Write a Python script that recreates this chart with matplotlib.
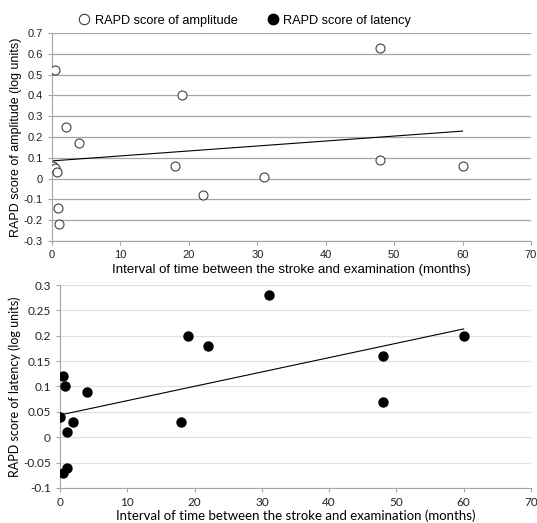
import numpy as np
import matplotlib
matplotlib.use("Agg")
import matplotlib.pyplot as plt
from matplotlib.lines import Line2D

# months between stroke and examination
months = [0.1, 0.5, 0.4, 0.8, 0.9, 1.0, 2, 4, 18, 19, 22, 31, 48, 48, 60]
amplitude = [0.06, 0.52, 0.05, 0.03, -0.14, -0.22, 0.25, 0.17, 0.06, 0.40, -0.08, 0.01, 0.63, 0.09, 0.06]

months_lat = [0, 0.5, 0.75, 1.0, 0.4, 1.0, 2, 4, 18, 19, 22, 31, 48, 48, 60]
latency = [0.04, 0.12, 0.10, 0.01, -0.07, -0.06, 0.03, 0.09, 0.03, 0.20, 0.18, 0.28, 0.16, 0.07, 0.20]

xlabel = "Interval of time between the stroke and examination (months)"

fig = plt.figure(figsize=(5.37, 5.23), dpi=100)

# top panel - amplitude
ax1 = fig.add_axes([0.0968, 0.539, 0.892, 0.398])
f1 = "Liberation Sans"
ax1.scatter(months, amplitude, s=42, facecolors="white", edgecolors="#404040", linewidths=0.8, zorder=3)
k, b = np.polyfit(months, amplitude, 1)
xx = np.array([min(months), max(months)])
ax1.plot(xx, k * xx + b, color="black", lw=0.8, zorder=2)
ax1.set_xlim(0, 70)
ax1.set_ylim(-0.3, 0.7)
ax1.set_xticks(range(0, 71, 10))
ax1.set_yticks(np.arange(-0.3, 0.71, 0.1))
ax1.set_yticklabels(["%g" % round(v, 1) for v in np.arange(-0.3, 0.71, 0.1)])
ax1.grid(axis="y", color="#a6a6a6", lw=0.9)
ax1.set_axisbelow(True)
for s in ["top", "right"]:
    ax1.spines[s].set_visible(False)
for s in ["left", "bottom"]:
    ax1.spines[s].set_color("#a6a6a6")
ax1.tick_params(colors="#a6a6a6", length=3, width=0.8, labelcolor="#222222", labelsize=8)
for t in ax1.get_xticklabels() + ax1.get_yticklabels():
    t.set_family(f1)
ax1.set_xlabel(xlabel, family=f1, fontsize=9.5, labelpad=3)
ax1.set_ylabel("RAPD score of amplitude (log units)", family=f1, fontsize=9, labelpad=1)

# bottom panel - latency
ax2 = fig.add_axes([0.1117, 0.067, 0.877, 0.388])
f2 = "Lato"
ax2.scatter(months_lat, latency, s=42, color="black", zorder=3)
k2, b2 = np.polyfit(months_lat, latency, 1)
xx2 = np.array([min(months_lat), max(months_lat)])
ax2.plot(xx2, k2 * xx2 + b2, color="black", lw=0.8, zorder=2)
ax2.set_xlim(0, 70)
ax2.set_ylim(-0.1, 0.3)
ax2.set_xticks(range(0, 71, 10))
ax2.set_yticks(np.arange(-0.1, 0.31, 0.05))
ax2.set_yticklabels(["%g" % round(v, 2) for v in np.arange(-0.1, 0.31, 0.05)])
ax2.grid(axis="y", color="#e0e0e0", lw=0.9)
ax2.set_axisbelow(True)
for s in ["top", "right"]:
    ax2.spines[s].set_visible(False)
for s in ["left", "bottom"]:
    ax2.spines[s].set_color("#a6a6a6")
ax2.tick_params(colors="#a6a6a6", length=3, width=0.8, labelcolor="#222222", labelsize=8.5)
for t in ax2.get_xticklabels() + ax2.get_yticklabels():
    t.set_family(f2)
ax2.set_xlabel(xlabel, family=f2, fontsize=9.5, labelpad=1)
ax2.set_ylabel("RAPD score of latency (log units)", family=f2, fontsize=9, labelpad=1.5)

# legend on top
handles = [
    Line2D([], [], ls="none", marker="o", ms=7.5, mfc="white", mec="#404040", mew=0.8),
    Line2D([], [], ls="none", marker="o", ms=7.5, mfc="black", mec="black"),
]
fig.legend(handles, ["RAPD score of amplitude", "RAPD score of latency"], ncol=2,
           loc="center", bbox_to_anchor=(0.452, 0.96), frameon=False,
           prop={"family": f1, "size": 9.2}, handletextpad=0.05, columnspacing=2.0,
           handlelength=1.5)

fig.savefig("out.png", dpi=100)
